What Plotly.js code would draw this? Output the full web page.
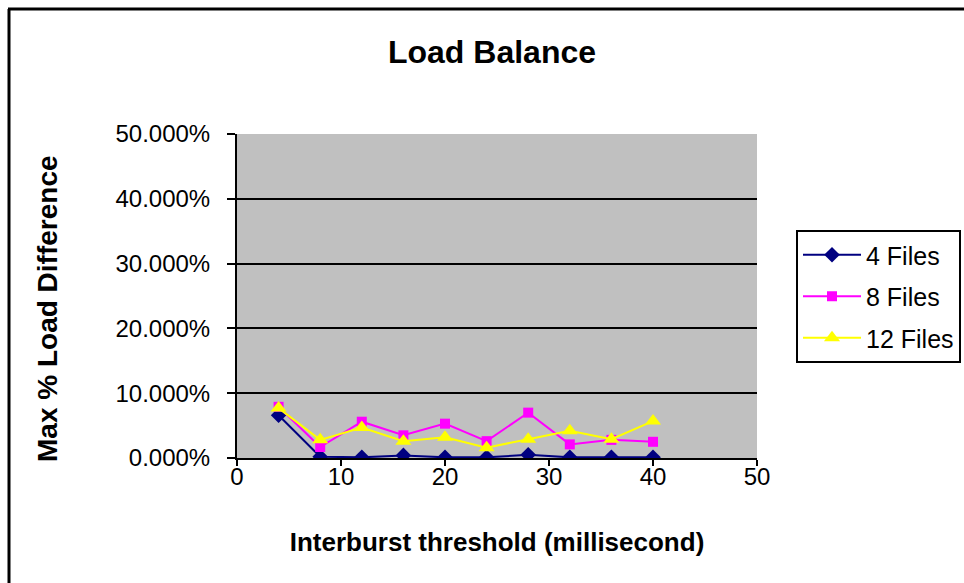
<!DOCTYPE html>
<html>
<head>
<meta charset="utf-8">
<script src="https://cdn.plot.ly/plotly-3.0.1.min.js"></script>
<style>html,body{margin:0;padding:0;background:#fff;}#chart{width:964px;height:583px;}</style>
</head>
<body>
<div id="chart"></div>
<script>
const thresholds = [4, 8, 12, 16, 20, 24, 28, 32, 36, 40];
const files4 = [0.066, 0.002, 0.001, 0.004, 0.001, 0.001, 0.005, 0.001, 0.001, 0.001];
const files8 = [0.079, 0.017, 0.056, 0.035, 0.053, 0.026, 0.070, 0.021, 0.028, 0.025];
const files12 = [0.077, 0.028, 0.047, 0.026, 0.032, 0.016, 0.029, 0.042, 0.029, 0.057];
const seriesNames = ['4 Files', '8 Files', '12 Files'];

const W = 964, H = 583;
const m = {l: 237, r: 207, t: 134, b: 125, autoexpand: false};
const pw = W - m.l - m.r, ph = H - m.t - m.b;
const px = x => (x - m.l) / pw;
const py = y => (H - m.b - y) / ph;

const font = 'Liberation Sans, Arial, sans-serif';

const traces = [
  {x: thresholds, y: files4, name: seriesNames[0], mode: 'lines+markers', legendgroup: 'a',
   line: {color: '#000080', width: 2}, marker: {symbol: 'diamond', size: 12, color: '#000080'}},
  {x: thresholds, y: files8, name: seriesNames[1], mode: 'lines+markers', legendgroup: 'b',
   line: {color: '#FF00FF', width: 2}, marker: {symbol: 'square', size: 10, color: '#FF00FF'}},
  {x: thresholds, y: files12, name: seriesNames[2], mode: 'lines+markers', legendgroup: 'c',
   line: {color: '#FFFF00', width: 2}, marker: {symbol: 'triangle-up', size: 14, color: '#FFFF00'}}
];

const layout = {
  width: W, height: H,
  margin: m,
  paper_bgcolor: '#ffffff',
  plot_bgcolor: '#C0C0C0',
  font: {family: font, size: 24, color: '#000'},
  title: {text: '<b>Load Balance</b>', font: {size: 32, family: font, color: '#000'},
          x: px(492), xref: 'paper', xanchor: 'center', y: 1 - 52 / H, yanchor: 'middle'},
  xaxis: {
    range: [0, 50], dtick: 10, tick0: 0,
    showgrid: false, zeroline: false,
    showline: true, linecolor: '#000', linewidth: 2,
    ticks: 'outside', ticklen: 6, tickwidth: 2, tickcolor: '#000',
    ticklabelstandoff: -10,
    tickfont: {size: 24, family: font},
    automargin: false,
    title: {text: '<b>Interburst threshold (millisecond)</b>', font: {size: 26, family: font}, standoff: 44}
  },
  yaxis: {
    range: [0, 0.5], dtick: 0.1, tick0: 0,
    tickformat: '.3%',
    showgrid: true, gridcolor: '#000', gridwidth: 2,
    zeroline: false,
    showline: true, linecolor: '#000', linewidth: 2,
    ticks: 'outside', ticklen: 8, tickwidth: 2, tickcolor: '#000',
    ticklabelstandoff: 12,
    automargin: false,
    tickfont: {size: 24, family: font}
  },
  annotations: [
    {text: '<b>Max % Load Difference</b>', xref: 'paper', yref: 'paper', x: px(47), y: py(309),
     xanchor: 'center', yanchor: 'middle', textangle: -90, showarrow: false,
     font: {size: 28, family: font, color: '#000'}}
  ],
  legend: {
    x: px(796), y: py(230), xanchor: 'left', yanchor: 'top',
    xref: 'paper', yref: 'paper',
    bgcolor: '#fff', bordercolor: '#000', borderwidth: 2,
    font: {size: 25, family: font, color: '#000'},
    tracegroupgap: 6,
    itemwidth: 58
  },
  shapes: [
    {type: 'line', xref: 'paper', yref: 'paper', x0: px(9), x1: px(9), y0: py(9), y1: py(H + 5), line: {color: '#000', width: 3}},
    {type: 'line', xref: 'paper', yref: 'paper', x0: px(8), x1: px(W + 5), y0: py(9), y1: py(9), line: {color: '#000', width: 3}}
  ]
};

Plotly.newPlot('chart', traces, layout, {displayModeBar: false, staticPlot: true});
</script>
</body>
</html>
